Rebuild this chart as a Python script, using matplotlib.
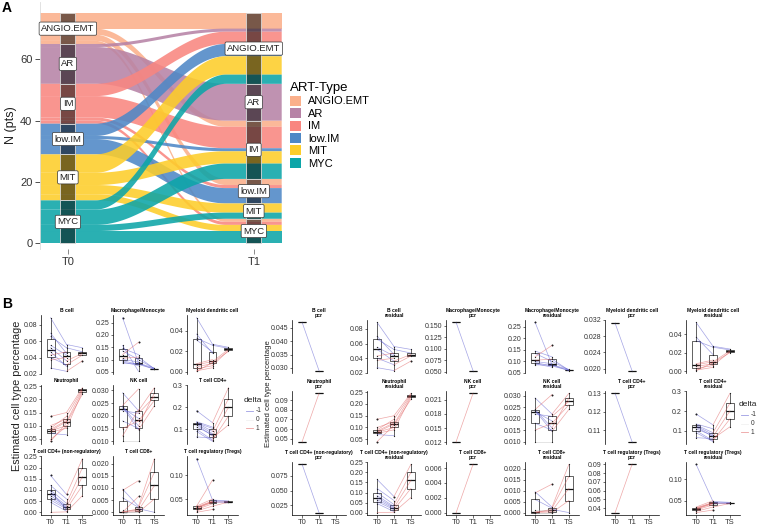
import numpy as np
import matplotlib
matplotlib.use("Agg")
import matplotlib.pyplot as plt
from matplotlib.patches import Rectangle, Patch
from matplotlib.lines import Line2D

plt.rcParams["font.family"] = ["Liberation Sans", "DejaVu Sans"]
nan = np.nan

# ---------------- Panel A data ----------------
ART_TYPES = ["ANGIO.EMT", "AR", "IM", "low.IM", "MIT", "MYC"]
ART_COLORS = ["#FBB08B", "#B783A6", "#F98680", "#4E88C6", "#FDCD2A", "#0CA5A8"]
TIMEPOINTS_A = ["T0", "T1"]
# patients moving from T0 type (row) to T1 type (columns in ART_TYPES order)
FLOW_ANGIO = [5, 0, 2, 2, 0, 1]
FLOW_AR = [1, 12, 0, 0, 0, 0]
FLOW_IM = [4, 0, 7, 1, 0, 1]
FLOW_LOWIM = [4, 0, 1, 5, 0, 0]
FLOW_MIT = [6, 0, 4, 0, 3, 2]
FLOW_MYC = [3, 0, 5, 0, 2, 4]

# ---------------- Panel B data ----------------
CELL_TYPES = ["B cell", "Macrophage/Monocyte", "Myeloid dendritic cell",
              "Neutrophil", "NK cell", "T cell CD4+",
              "T cell CD4+ (non-regulatory)", "T cell CD8+", "T cell regulatory (Tregs)"]
TIMEPOINTS_B = ["T0", "T1", "TS"]
PCR_T0 = [0.047, 0.157, 0.0312, 0.047, 0.0121, 0.130, 0.094, 0.000, 0.035]
PCR_T1 = [0.029, 0.052, 0.0195, 0.097, 0.0224, 0.104, 0.013, 0.0065, 0.090]

BCELL_T0 = [0.089, 0.070, 0.066, 0.055, 0.052, 0.043, 0.040, 0.037, 0.027]
BCELL_T1 = [0.056, 0.045, 0.052, 0.043, 0.036, 0.047, 0.031, 0.040, 0.023]
BCELL_TS = [0.052, nan, 0.047, nan, 0.045, nan, 0.043, nan, 0.036]

MACRO_T0 = [0.27, 0.145, 0.135, 0.12, 0.105, 0.10, 0.095, 0.09, 0.085]
MACRO_T1 = [0.085, 0.12, 0.10, 0.17, 0.11, 0.09, 0.08, 0.075, 0.084]
MACRO_TS = [0.065, nan, 0.063, nan, 0.062, nan, 0.061, nan, 0.060]

MDC_T0 = [0.053, 0.037, 0.033, 0.008, 0.007, 0.005, 0.003, 0.001, 0.0005]
MDC_T1 = [0.027, 0.018, 0.026, 0.012, 0.010, 0.008, 0.006, 0.004, 0.009]
MDC_TS = [0.024, nan, 0.023, nan, 0.022, nan, 0.021, nan, 0.020]

NEUT_T0 = [0.135, 0.10, 0.09, 0.085, 0.08, 0.08, 0.075, 0.07, 0.04]
NEUT_T1 = [0.15, 0.125, 0.135, 0.12, 0.115, 0.10, 0.09, 0.065, 0.11]
NEUT_TS = [0.245, nan, 0.24, nan, 0.235, nan, 0.23, nan, 0.22]

NK_T0 = [0.029, 0.024, 0.0238, 0.023, 0.022, 0.018, 0.015, 0.010, 0.0235]
NK_T1 = [0.022, 0.0305, 0.016, 0.019, 0.021, 0.015, 0.018, 0.010, 0.0145]
NK_TS = [0.031, nan, 0.029, nan, 0.0275, nan, 0.026, nan, 0.024]

CD4_T0 = [0.185, 0.135, 0.13, 0.125, 0.12, 0.11, 0.10, 0.09, 0.065]
CD4_T1 = [0.13, 0.11, 0.09, 0.08, 0.07, 0.075, 0.05, 0.045, 0.06]
CD4_TS = [0.29, nan, 0.24, nan, 0.20, nan, 0.16, nan, 0.12]

CD4NR_T0 = [0.165, 0.12, 0.10, 0.085, 0.075, 0.065, 0.055, 0.045, 0.0]
CD4NR_T1 = [0.08, 0.06, 0.04, 0.03, 0.025, 0.02, 0.015, 0.005, 0.002]
CD4NR_TS = [0.24, nan, 0.20, nan, 0.16, nan, 0.12, nan, 0.075]

CD8_T0 = [0.0095, 0.009, 0.006, 0.001, 0.0003, 0.0, 0.0, 0.0, 0.0]
CD8_T1 = [0.0025, 0.013, 0.002, 0.001, 0.0008, 0.0003, 0.0, 0.0, 0.0015]
CD8_TS = [0.022, nan, 0.0165, nan, 0.011, nan, 0.0055, nan, 0.0]

TREG_T0 = [0.135, 0.035, 0.033, 0.032, 0.030, 0.028, 0.025, 0.022, 0.031]
TREG_T1 = [0.048, 0.05, 0.046, 0.045, 0.043, 0.04, 0.035, 0.028, 0.044]
TREG_TS = [0.046, nan, 0.045, nan, 0.044, nan, 0.0435, nan, 0.043]

RES_T0 = [BCELL_T0, MACRO_T0, MDC_T0, NEUT_T0, NK_T0, CD4_T0, CD4NR_T0, CD8_T0, TREG_T0]
RES_T1 = [BCELL_T1, MACRO_T1, MDC_T1, NEUT_T1, NK_T1, CD4_T1, CD4NR_T1, CD8_T1, TREG_T1]
RES_TS = [BCELL_TS, MACRO_TS, MDC_TS, NEUT_TS, NK_TS, CD4_TS, CD4NR_TS, CD8_TS, TREG_TS]

TICKS_ALL = [["0.02", "0.04", "0.06", "0.08"],
             ["0.05", "0.10", "0.15", "0.20", "0.25"],
             ["0.00", "0.02", "0.04"],
             ["0.05", "0.10", "0.15", "0.20", "0.25"],
             ["0.010", "0.015", "0.020", "0.025", "0.030"],
             ["0.1", "0.2", "0.3"],
             ["0.00", "0.05", "0.10", "0.15", "0.20", "0.25"],
             ["0.000", "0.005", "0.010", "0.015", "0.020"],
             ["0.05", "0.10"]]
TICKS_PCR = [["0.030", "0.035", "0.040", "0.045"],
             ["0.050", "0.075", "0.100", "0.125", "0.150"],
             ["0.020", "0.024", "0.028", "0.032"],
             ["0.05", "0.06", "0.07", "0.08", "0.09"],
             ["0.012", "0.015", "0.018", "0.021"],
             ["0.11", "0.12", "0.13"],
             ["0.025", "0.050", "0.075"],
             ["0.000", "0.002", "0.004", "0.006"],
             ["0.04", "0.05", "0.06", "0.07", "0.08", "0.09"]]
DELTA_LEVELS = ["-1", "0", "1"]
DELTA_COLORS = ["#5A5AD0", "#E8E8E8", "#E06060"]

# ---------------- figure ----------------
W, H = 758, 525
fig = plt.figure(figsize=(W / 100, H / 100), dpi=100)


def add_ax(x0, y0, x1, y1):
    return fig.add_axes([x0 / W, 1 - y1 / H, (x1 - x0) / W, (y1 - y0) / H])


# ---------------- Panel A: alluvial ----------------
axA = add_ax(40, 1.8, 281.7, 249)
M = np.array([FLOW_ANGIO, FLOW_AR, FLOW_IM, FLOW_LOWIM, FLOW_MIT, FLOW_MYC])
total = M.sum()
n0 = M.sum(1)
n1 = M.sum(0)
top0 = total - np.concatenate([[0], np.cumsum(n0)[:-1]])
top1 = total - np.concatenate([[0], np.cumsum(n1)[:-1]])
cur0 = top0.astype(float).copy()
cur1 = top1.astype(float).copy()
hw = 0.15
t = np.linspace(0, 1, 80)
s = 0.5 - 0.5 * np.cos(np.pi * t)
xc = (1 + hw) + t * (1 - 2 * hw)
xs = np.concatenate([[1 - hw], xc, [2 + hw]])
for i in range(6):
    for j in range(6):
        k = M[i, j]
        if k == 0:
            continue
        a_top = cur0[i]
        cur0[i] -= k
        b_top = cur1[j]
        cur1[j] -= k
        yu = np.concatenate([[a_top], a_top + (b_top - a_top) * s, [b_top]])
        yl = yu - k
        axA.fill(np.concatenate([xs, xs[::-1]]), np.concatenate([yu, yl[::-1]]),
                 color=ART_COLORS[i], alpha=0.88, lw=0, zorder=1 + i * 0.01)

sw = 0.04
for xpos, tops, ns in [(1, top0, n0), (2, top1, n1)]:
    for i in range(6):
        if ns[i] == 0:
            continue
        axA.add_patch(Rectangle((xpos - sw, tops[i] - ns[i]), 2 * sw, ns[i],
                                facecolor=(0, 0, 0, 0.52), edgecolor="#D8D8D8", lw=0.6, zorder=3))
        axA.text(xpos, tops[i] - ns[i] / 2, ART_TYPES[i], ha="center", va="center",
                 fontsize=6.8, color="#222222", zorder=4,
                 bbox=dict(boxstyle="round,pad=0.22,rounding_size=0.15", fc="white", ec="#333333", lw=0.5))

axA.set_xlim(1 - hw, 2 + hw)
axA.set_ylim(-1.86, 1.05 * total)
axA.set_yticks([0, 20, 40, 60])
axA.set_xticks([1, 2])
axA.set_xticklabels(TIMEPOINTS_A)
axA.tick_params(axis="both", labelsize=8, labelcolor="#333333", length=3.5, width=0.6, pad=2)
axA.tick_params(axis="x", color="#777777")
axA.tick_params(axis="y", color="#333333")
for sp in ["top", "right", "bottom"]:
    axA.spines[sp].set_visible(False)
axA.spines["left"].set_color("#DDDDDD")
axA.spines["left"].set_linewidth(0.6)
axA.set_ylabel("N (pts)", fontsize=9, color="#222222", labelpad=2)

handles = [Patch(facecolor=c, edgecolor="none") for c in ART_COLORS]
leg = fig.legend(handles, ART_TYPES, loc="upper left", bbox_to_anchor=(290 / W, 1 - 82 / H),
                 frameon=False, title="ART-Type", fontsize=8, title_fontsize=9.5,
                 handlelength=1.0, handleheight=1.0, labelspacing=0.15, handletextpad=0.6,
                 alignment="left", borderpad=0, borderaxespad=0)
fig.text(7 / W, 1 - 8 / H, "A", fontsize=10, fontweight="bold", ha="center", va="center")
fig.text(7 / W, 1 - 304 / H, "B", fontsize=10, fontweight="bold", ha="center", va="center")


# ---------------- Panel B helpers ----------------
def draw_panel(ax, t0, t1, ts, title, ticks, show_x):
    data = [np.asarray(t0, float), np.asarray(t1, float), np.asarray(ts, float)]
    clean = [d[~np.isnan(d)] for d in data]
    pos = [k + 1 for k in range(3) if len(clean[k])]
    vals = [clean[k] for k in range(3) if len(clean[k])]
    ax.boxplot(vals, positions=pos, widths=0.5, patch_artist=True, whis=1.5,
               boxprops=dict(facecolor="white", edgecolor="#222222", lw=0.5),
               medianprops=dict(color="#111111", lw=0.9),
               whiskerprops=dict(color="#222222", lw=0.5),
               capprops=dict(lw=0), showcaps=False,
               flierprops=dict(marker="o", ms=1.4, mfc="#111111", mec="none"),
               zorder=2, manage_ticks=False)
    n = len(data[0])
    for p in range(n):
        pts = [(k + 1, data[k][p]) for k in range(3) if not np.isnan(data[k][p])]
        for a, b in zip(pts[:-1], pts[1:]):
            if b[1] < a[1]:
                col = DELTA_COLORS[0]
            elif b[1] > a[1]:
                col = DELTA_COLORS[2]
            else:
                col = "#BBBBBB"
            ax.plot([a[0], b[0]], [a[1], b[1]], color=col, lw=0.5, alpha=0.55, zorder=3)
    for k in range(3):
        ax.plot(np.full(len(clean[k]), k + 1.0), clean[k], "o", ms=0.9, color="#222222",
                mec="none", zorder=4)
    allv = np.concatenate(clean)
    lo, hi = allv.min(), allv.max()
    pad = 0.05 * (hi - lo)
    ax.set_ylim(lo - pad, hi + pad)
    ax.set_yticks([float(v) for v in ticks])
    ax.set_yticklabels(ticks)
    ax.set_xlim(0.4, 3.6)
    ax.set_xticks([1, 2, 3])
    for sp in ["top", "right"]:
        ax.spines[sp].set_visible(False)
    ax.spines["left"].set_linewidth(0.5)
    ax.tick_params(axis="y", labelsize=5, length=1.8, width=0.5, pad=1, colors="#333333")
    if show_x:
        ax.set_xticklabels(TIMEPOINTS_B)
        ax.spines["bottom"].set_linewidth(0.5)
        ax.tick_params(axis="x", labelsize=5.5, length=1.8, width=0.5, pad=1, colors="#333333")
    else:
        ax.spines["bottom"].set_visible(False)
        ax.tick_params(axis="x", length=0, labelbottom=False)
    ax.set_title(title, fontsize=3.6, fontweight="bold", pad=2.5, linespacing=1.0)


# Left group: combined (pcr patient + residual patients)
L_LEFTS = [41, 113, 187]
L_TOPS = [315, 385, 456]
L_W, L_H = 51, 59
for c in range(9):
    r, col = c // 3, c % 3
    ax = add_ax(L_LEFTS[col], L_TOPS[r], L_LEFTS[col] + L_W, L_TOPS[r] + L_H)
    t0 = [PCR_T0[c]] + list(RES_T0[c])
    t1 = [PCR_T1[c]] + list(RES_T1[c])
    ts = [nan] + list(RES_TS[c])
    draw_panel(ax, t0, t1, ts, CELL_TYPES[c], TICKS_ALL[c], r == 2)

# Right group: pcr and residual separately
R_LEFTS = [292, 367, 446, 525, 605, 686]
R_TOPS = [320, 391, 462]
R_W, R_H = 54, 53
for c in range(9):
    for kind in range(2):
        idx = 2 * c + kind
        r, col = idx // 6, idx % 6
        ax = add_ax(R_LEFTS[col], R_TOPS[r], R_LEFTS[col] + R_W, R_TOPS[r] + R_H)
        if kind == 0:
            draw_panel(ax, [PCR_T0[c]], [PCR_T1[c]], [nan], CELL_TYPES[c] + "\npcr",
                       TICKS_PCR[c], r == 2)
        else:
            draw_panel(ax, RES_T0[c], RES_T1[c], RES_TS[c], CELL_TYPES[c] + "\nresidual",
                       TICKS_ALL[c], r == 2)

# y labels
fig.text(17 / W, 1 - 396 / H, "Estimated cell type percentage", rotation=90,
         fontsize=7.8, ha="center", va="center", color="#222222")
fig.text(268 / W, 1 - 394 / H, "Estimated cell type percentage", rotation=90,
         fontsize=5.6, ha="center", va="center", color="#222222")


# delta legends
def delta_legend(x, y):
    fig.text(x / W, 1 - y / H, "delta", fontsize=6, ha="left", va="center", color="#222222")
    for k, lab in enumerate(DELTA_LEVELS):
        yy = y + 10 + 8.5 * k
        fig.add_artist(Line2D([(x + 2) / W, (x + 9) / W], [1 - yy / H, 1 - yy / H],
                              color=DELTA_COLORS[k], lw=0.6, alpha=0.6,
                              transform=fig.transFigure))
        fig.text((x + 12) / W, 1 - yy / H, lab, fontsize=4.8, ha="left", va="center",
                 color="#333333")


delta_legend(244, 401)
delta_legend(739, 405)

fig.savefig("out.png", dpi=100)
